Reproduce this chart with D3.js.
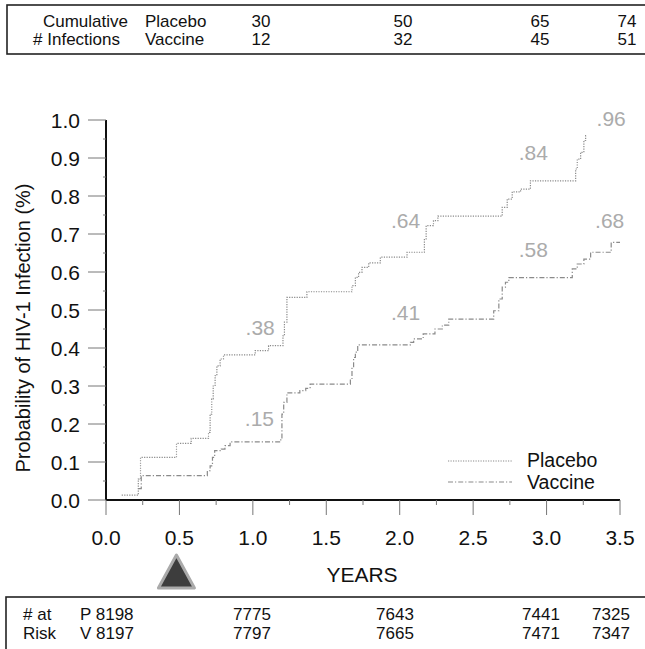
<!DOCTYPE html>
<html>
<head>
<meta charset="utf-8">
<script src="https://cdn.jsdelivr.net/npm/d3@7"></script>
<style>
  body { margin: 0; background: #fff; }
  svg { display: block; font-family: "Liberation Sans", Arial, sans-serif; }
</style>
</head>
<body>
<div id="chart"></div>
<script>
// Curvas de Kaplan-Meier (año, probabilidad) – escalones
const placebo = [
  [0.107, 0.013], [0.22, 0.055], [0.235, 0.112], [0.48, 0.149], [0.58, 0.162],
  [0.698, 0.178], [0.709, 0.226], [0.72, 0.266], [0.73, 0.30], [0.743, 0.327],
  [0.755, 0.353], [0.777, 0.371], [0.80, 0.382], [1.016, 0.393], [1.107, 0.406],
  [1.205, 0.432], [1.215, 0.468], [1.232, 0.533], [1.368, 0.548], [1.675, 0.564],
  [1.698, 0.586], [1.72, 0.599], [1.743, 0.612], [1.789, 0.624], [1.868, 0.639],
  [2.05, 0.652], [2.168, 0.687], [2.18, 0.722], [2.23, 0.735], [2.26, 0.747],
  [2.698, 0.77], [2.732, 0.792], [2.766, 0.811], [2.823, 0.818], [2.89, 0.840],
  [3.198, 0.871], [3.209, 0.897], [3.232, 0.915], [3.254, 0.946], [3.266, 0.959],
  [3.27, 0.959]
];
const vaccine = [
  [0.22, 0.03], [0.24, 0.064], [0.69, 0.077], [0.709, 0.09], [0.725, 0.112],
  [0.74, 0.13], [0.785, 0.134], [0.81, 0.143], [0.845, 0.153], [1.19, 0.16],
  [1.198, 0.226], [1.21, 0.257], [1.232, 0.282], [1.32, 0.288], [1.36, 0.294],
  [1.39, 0.305], [1.664, 0.318], [1.675, 0.349], [1.686, 0.375], [1.698, 0.389],
  [1.714, 0.408], [2.073, 0.415], [2.095, 0.424], [2.16, 0.437], [2.24, 0.45],
  [2.29, 0.46], [2.334, 0.476], [2.64, 0.498], [2.675, 0.529], [2.698, 0.56],
  [2.72, 0.573], [2.743, 0.585], [3.175, 0.608], [3.209, 0.621], [3.254, 0.634],
  [3.3, 0.652], [3.44, 0.678], [3.5, 0.678]
];

// Etiquetas sobre las curvas: [año, prob, texto]
const placeboLabels = [[1.05, 0.435, '.38'], [2.04, 0.715, '.64'], [2.91, 0.895, '.84'], [3.44, 0.985, '.96']];
const vaccineLabels = [[1.045, 0.195, '.15'], [2.04, 0.475, '.41'], [2.91, 0.64, '.58'], [3.43, 0.715, '.68']];

// Tablas
const topRowLabels = ['Cumulative', '# Infections'];
const topGroups = ['Placebo', 'Vaccine'];
const infPlacebo = [30, 50, 65, 74];
const infVaccine = [12, 32, 45, 51];
const riskRowLabels = ['# at', 'Risk'];
const riskGroups = ['P', 'V'];
const riskPlacebo = [8198, 7775, 7643, 7441, 7325];
const riskVaccine = [8197, 7797, 7665, 7471, 7347];

const xTicks = [0, 0.5, 1, 1.5, 2, 2.5, 3, 3.5];
const yTicks = [0, 0.1, 0.2, 0.3, 0.4, 0.5, 0.6, 0.7, 0.8, 0.9, 1.0];

const W = 645, H = 649;
const svg = d3.select('#chart').append('svg').attr('width', W).attr('height', H);

const x = d3.scaleLinear().domain([0, 3.5]).range([106, 620]);
const y = d3.scaleLinear().domain([0, 1]).range([500, 120]);

// Tabla superior
svg.append('rect').attr('x', 7).attr('y', 5).attr('width', 700).attr('height', 49)
  .attr('fill', 'none').attr('stroke', '#222').attr('stroke-width', 1.6);
const topX = [261, 403, 540, 627];
const topRows = [infPlacebo, infVaccine];
const topBase = [27, 45];
topRowLabels.forEach((t, i) => {
  svg.append('text').attr('x', i === 0 ? 128 : 120).attr('y', topBase[i])
    .attr('text-anchor', 'end').attr('font-size', 17).attr('fill', '#111').text(t);
  svg.append('text').attr('x', 145).attr('y', topBase[i])
    .attr('font-size', 17).attr('fill', '#111').text(topGroups[i]);
  topRows[i].forEach((v, j) => {
    svg.append('text').attr('x', topX[j]).attr('y', topBase[i])
      .attr('text-anchor', 'middle').attr('font-size', 17).attr('fill', '#111').text(v);
  });
});

// Ejes
const ax = svg.append('g');
ax.append('line').attr('x1', x(0)).attr('x2', x(3.5)).attr('y1', y(0)).attr('y2', y(0))
  .attr('stroke', '#111').attr('stroke-width', 2);
ax.append('line').attr('x1', x(0)).attr('x2', x(0)).attr('y1', y(0)).attr('y2', y(1))
  .attr('stroke', '#111').attr('stroke-width', 2);

yTicks.forEach((t) => {
  ax.append('line').attr('x1', 88).attr('x2', x(0)).attr('y1', y(t)).attr('y2', y(t))
    .attr('stroke', '#777').attr('stroke-width', 1);
  ax.append('text').attr('x', 80).attr('y', y(t) + 7.5).attr('text-anchor', 'end')
    .attr('font-size', 21).attr('fill', '#111').text(t.toFixed(1));
});
d3.range(0.05, 1, 0.1).forEach((t) => {
  ax.append('line').attr('x1', x(0) - 3).attr('x2', x(0)).attr('y1', y(t)).attr('y2', y(t))
    .attr('stroke', '#777').attr('stroke-width', 1);
});
xTicks.forEach((t) => {
  ax.append('line').attr('x1', x(t)).attr('x2', x(t)).attr('y1', y(0)).attr('y2', y(0) + 15)
    .attr('stroke', '#777').attr('stroke-width', 1);
  ax.append('text').attr('x', x(t)).attr('y', 545).attr('text-anchor', 'middle')
    .attr('font-size', 21).attr('fill', '#111').text(t.toFixed(1));
});
d3.range(0.25, 3.5, 0.5).forEach((t) => {
  ax.append('line').attr('x1', x(t)).attr('x2', x(t)).attr('y1', y(0)).attr('y2', y(0) + 5)
    .attr('stroke', '#777').attr('stroke-width', 1);
});

svg.append('text').attr('x', 362).attr('y', 582).attr('text-anchor', 'middle')
  .attr('font-size', 21).attr('fill', '#111').text('YEARS');
svg.append('text').attr('transform', 'translate(30,328) rotate(-90)')
  .attr('text-anchor', 'middle').attr('font-size', 20).attr('fill', '#111')
  .text('Probability of HIV-1 Infection (%)');

// Curvas
const line = d3.line().x((d) => x(d[0])).y((d) => y(d[1])).curve(d3.curveStepAfter);
svg.append('path').datum(placebo).attr('fill', 'none').attr('stroke', '#8a8a8a')
  .attr('stroke-width', 1.2).attr('stroke-dasharray', '1.2,1.3').attr('d', line);
svg.append('path').datum(vaccine).attr('fill', 'none').attr('stroke', '#8a8a8a')
  .attr('stroke-width', 1.2).attr('stroke-dasharray', '5,2,1.2,2').attr('d', line);

placeboLabels.concat(vaccineLabels).forEach((d) => {
  svg.append('text').attr('x', x(d[0])).attr('y', y(d[1]))
    .attr('text-anchor', 'middle').attr('font-size', 21)
    .attr('fill', '#ababab')
    .text(d[2]);
});

// Leyenda
svg.append('line').attr('x1', 448).attr('x2', 512).attr('y1', 461).attr('y2', 461)
  .attr('stroke', '#8a8a8a').attr('stroke-width', 1.2).attr('stroke-dasharray', '1.2,1.3');
svg.append('line').attr('x1', 448).attr('x2', 512).attr('y1', 482).attr('y2', 482)
  .attr('stroke', '#8a8a8a').attr('stroke-width', 1.2).attr('stroke-dasharray', '5,2,1.2,2');
svg.append('text').attr('x', 527).attr('y', 467).attr('font-size', 19.5).attr('fill', '#111').text('Placebo');
svg.append('text').attr('x', 527).attr('y', 489).attr('font-size', 19.5).attr('fill', '#111').text('Vaccine');

// Triángulo en 0.5 años
svg.append('path')
  .attr('d', `M${x(0.5) - 3},555 L${x(0.5) + 15},588 L${x(0.5) - 21},588 Z`)
  .attr('fill', '#3d3d3d').attr('stroke', '#aaa').attr('stroke-width', 3).attr('stroke-linejoin', 'round');

// Tabla inferior
svg.append('rect').attr('x', 6).attr('y', 597).attr('width', 700).attr('height', 100)
  .attr('fill', 'none').attr('stroke', '#222').attr('stroke-width', 1.6);
const riskX = [null, 252, 395, 541, 611];
const riskRows = [riskPlacebo, riskVaccine];
const riskBase = [620, 639];
riskRowLabels.forEach((t, i) => {
  svg.append('text').attr('x', 23).attr('y', riskBase[i])
    .attr('font-size', 17).attr('fill', '#111').text(t);
  svg.append('text').attr('x', 80).attr('y', riskBase[i])
    .attr('font-size', 17).attr('fill', '#111').text(riskGroups[i] + ' ' + riskRows[i][0]);
  riskRows[i].slice(1).forEach((v, j) => {
    svg.append('text').attr('x', riskX[j + 1]).attr('y', riskBase[i])
      .attr('text-anchor', 'middle').attr('font-size', 17).attr('fill', '#111').text(v);
  });
});
</script>
</body>
</html>
